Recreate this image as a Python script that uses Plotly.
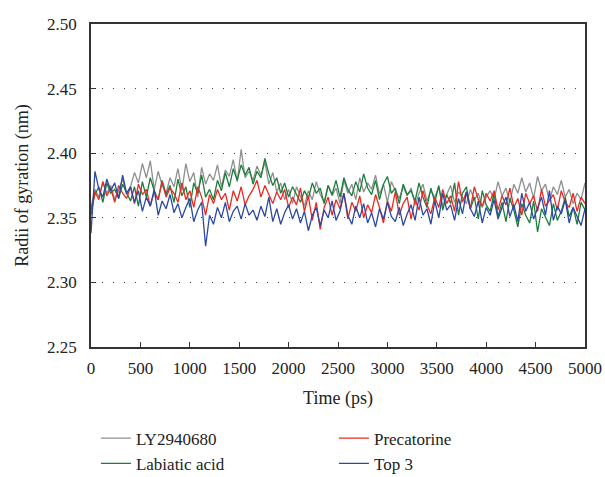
import plotly.graph_objects as go

time_ps = [i * 40 for i in range(126)]

ly2940680 = [
    2.358, 2.372, 2.366, 2.378, 2.369, 2.375, 2.364, 2.371, 2.380, 2.368, 2.374,
    2.385, 2.377, 2.392, 2.381, 2.394, 2.372, 2.386, 2.375, 2.369, 2.381,
    2.374, 2.388, 2.371, 2.392, 2.378, 2.385, 2.366, 2.389, 2.376, 2.384,
    2.379, 2.391, 2.374, 2.387, 2.382, 2.395, 2.378, 2.403, 2.381, 2.386,
    2.379, 2.390, 2.383, 2.393, 2.376, 2.385, 2.370, 2.377, 2.364, 2.372,
    2.361, 2.374, 2.366, 2.359, 2.371, 2.364, 2.378, 2.368, 2.362, 2.375,
    2.367, 2.373, 2.361, 2.379, 2.369, 2.376, 2.364, 2.381, 2.370, 2.377,
    2.372, 2.383, 2.368, 2.376, 2.362, 2.378, 2.371, 2.365, 2.374, 2.367,
    2.373, 2.360, 2.369, 2.376, 2.363, 2.371, 2.366, 2.374, 2.359, 2.368,
    2.375, 2.362, 2.370, 2.366, 2.361, 2.372, 2.364, 2.369, 2.358, 2.366,
    2.371, 2.364, 2.378, 2.367, 2.373, 2.362, 2.376, 2.369, 2.381, 2.370,
    2.377, 2.365, 2.382, 2.371, 2.376, 2.363, 2.374, 2.368, 2.379, 2.366,
    2.372, 2.361, 2.369, 2.364, 2.377,
]

labiatic_acid = [
    2.356, 2.368, 2.374, 2.362, 2.377, 2.369, 2.372, 2.365, 2.376, 2.370, 2.363,
    2.374, 2.359, 2.378, 2.366, 2.381, 2.371, 2.364, 2.379, 2.368, 2.375,
    2.362, 2.380, 2.367, 2.374, 2.358, 2.377, 2.369, 2.383, 2.366, 2.372,
    2.364, 2.379, 2.371, 2.385, 2.374, 2.388, 2.379, 2.391, 2.383, 2.389,
    2.376, 2.386, 2.381, 2.396, 2.384, 2.375, 2.381, 2.369, 2.377, 2.366,
    2.374, 2.368, 2.362, 2.371, 2.365, 2.377, 2.369, 2.373, 2.361, 2.375,
    2.368, 2.379, 2.366, 2.381, 2.372, 2.367, 2.378, 2.370, 2.384, 2.373,
    2.368, 2.379, 2.364, 2.376, 2.382, 2.369, 2.373, 2.361, 2.376, 2.368,
    2.371, 2.363, 2.377, 2.366, 2.358, 2.373, 2.362, 2.375, 2.356, 2.368,
    2.361, 2.377, 2.352, 2.369, 2.374, 2.357, 2.366, 2.349, 2.371, 2.360,
    2.355, 2.369, 2.351, 2.362, 2.347, 2.365, 2.356, 2.343, 2.361, 2.352,
    2.346, 2.363, 2.339, 2.357, 2.350, 2.344, 2.361, 2.348, 2.355, 2.366,
    2.351, 2.358, 2.345, 2.362, 2.356,
]

precatorine = [
    2.352, 2.370, 2.364, 2.378, 2.367, 2.373, 2.362, 2.375, 2.369, 2.365, 2.374,
    2.361, 2.376, 2.368, 2.372, 2.359, 2.370, 2.364, 2.378, 2.366, 2.373,
    2.369, 2.362, 2.377, 2.364, 2.371, 2.358, 2.374, 2.366, 2.352, 2.368,
    2.361, 2.372, 2.364, 2.369, 2.356, 2.371, 2.363, 2.374, 2.360, 2.367,
    2.372, 2.379, 2.366, 2.375, 2.368, 2.361, 2.370, 2.364, 2.372, 2.358,
    2.366, 2.360, 2.373, 2.355, 2.367, 2.348, 2.362, 2.341, 2.358, 2.366,
    2.352, 2.364, 2.357, 2.369, 2.349, 2.362, 2.355, 2.367, 2.350, 2.360,
    2.354, 2.368, 2.358, 2.346, 2.363, 2.355, 2.370, 2.352, 2.361, 2.366,
    2.349, 2.364, 2.356, 2.371, 2.360, 2.353, 2.366, 2.358, 2.372, 2.361,
    2.367, 2.355, 2.378, 2.362, 2.370, 2.357, 2.374, 2.364, 2.359, 2.369,
    2.363, 2.371, 2.356, 2.367, 2.360, 2.373, 2.358, 2.365, 2.352, 2.369,
    2.361, 2.367, 2.355, 2.372, 2.359, 2.364, 2.368, 2.356, 2.371, 2.362,
    2.358, 2.369, 2.355, 2.366, 2.361,
]

top3 = [
    2.338, 2.386, 2.372, 2.366, 2.380, 2.371, 2.377, 2.365, 2.383, 2.369, 2.374,
    2.362, 2.371, 2.355, 2.366, 2.359, 2.372, 2.352, 2.363, 2.357, 2.368,
    2.354, 2.361, 2.350, 2.358, 2.365, 2.347, 2.356, 2.362, 2.328, 2.352,
    2.345, 2.358, 2.350, 2.362, 2.347, 2.355, 2.359, 2.349, 2.361, 2.352,
    2.356, 2.348, 2.359, 2.351, 2.366, 2.347, 2.357, 2.345, 2.354, 2.360,
    2.349, 2.357, 2.346, 2.355, 2.340, 2.352, 2.358, 2.344, 2.356, 2.350,
    2.363, 2.348, 2.355, 2.369, 2.352, 2.345, 2.359, 2.350, 2.361, 2.346,
    2.354, 2.343, 2.357, 2.349, 2.362, 2.351, 2.347, 2.358, 2.344, 2.353,
    2.360, 2.348, 2.366, 2.352, 2.357, 2.345, 2.363, 2.350, 2.369, 2.356,
    2.360, 2.348, 2.365, 2.353, 2.370, 2.357, 2.351, 2.363, 2.346, 2.358,
    2.352, 2.364, 2.349, 2.358, 2.366, 2.351, 2.360, 2.347, 2.369, 2.355,
    2.362, 2.349, 2.357, 2.366, 2.352, 2.371, 2.348, 2.359, 2.353, 2.364,
    2.346, 2.358, 2.351, 2.344, 2.357,
]

x_ticks = [0, 500, 1000, 1500, 2000, 2500, 3000, 3500, 4000, 4500, 5000]
y_ticks = [2.25, 2.30, 2.35, 2.40, 2.45, 2.50]
y_tick_labels = ["2.25", "2.30", "2.35", "2.40", "2.45", "2.50"]

series = [
    ("LY2940680", ly2940680, "#8f8f8f", 1),
    ("Labiatic acid", labiatic_acid, "#1b7d3a", 3),
    ("Precatorine", precatorine, "#ea2a22", 2),
    ("Top 3", top3, "#2b48a3", 4),
]

FONT = "Liberation Serif"
fig = go.Figure()
for name, vals, color, rank in series:
    fig.add_trace(go.Scatter(
        x=time_ps, y=vals, mode="lines", name=name,
        line=dict(color=color, width=1.3), legendrank=rank,
    ))

axis_common = dict(
    showline=True, linecolor="#333333", linewidth=1.5, mirror=True,
    ticks="inside", ticklen=5, tickcolor="#333333", tickwidth=1.2,
    zeroline=False, automargin=False,
    tickfont=dict(family=FONT, size=17, color="#222222"),
)

fig.update_layout(
    width=605, height=477,
    margin=dict(l=91, r=20, t=24, b=130, autoexpand=False),
    paper_bgcolor="white", plot_bgcolor="white",
    font=dict(family=FONT, size=17, color="#222222"),
    xaxis=dict(
        range=[0, 5000], tickvals=x_ticks, showgrid=False,
        ticklabelstandoff=5,
        title=dict(text="Time (ps)", font=dict(family=FONT, size=18), standoff=14),
        **axis_common,
    ),
    yaxis=dict(
        range=[2.25, 2.50], tickvals=y_ticks, ticktext=y_tick_labels,
        showgrid=True, gridcolor="#444444", gridwidth=1, griddash="1px,10px",
        ticklabelstandoff=9,
        title=dict(text="Radii of gyration (nm)", font=dict(family=FONT, size=18), standoff=14),
        **axis_common,
    ),
    legend=dict(
        orientation="h", x=0.01, xanchor="left", y=-0.228, yanchor="top",
        entrywidth=193, entrywidthmode="pixels", traceorder="normal",
        font=dict(family=FONT, size=17), tracegroupgap=0,
        bgcolor="rgba(0,0,0,0)",
    ),
    showlegend=True,
)

fig.write_html("out.html")
